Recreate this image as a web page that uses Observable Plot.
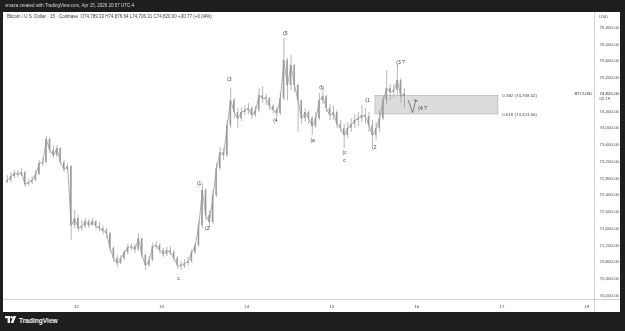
<!DOCTYPE html>
<html><head><meta charset="utf-8">
<script src="https://cdn.jsdelivr.net/npm/d3@7"></script>
<script src="https://cdn.jsdelivr.net/npm/@observablehq/plot@0.6"></script>
<style>
html,body{margin:0;padding:0;background:#1e1e1e;width:625px;height:331px;overflow:hidden;font-family:"Liberation Sans",Arial,sans-serif;}
#top{position:absolute;left:5px;top:0;height:11px;line-height:11px;font-size:4.5px;color:#dadada;white-space:nowrap;will-change:transform;}
#panel{position:absolute;left:3px;top:12px;width:617px;height:300px;background:#fff;overflow:hidden;}
#legend{position:absolute;left:4px;top:2px;font-size:4.5px;color:#3a3a3a;white-space:nowrap;will-change:transform;}
#usd{position:absolute;left:596px;top:2px;font-size:4.4px;color:#555;will-change:transform;}
.vsep{position:absolute;left:591px;top:0;width:1px;height:300px;background:#d2d2d2;}
.hsep{position:absolute;left:0;top:287px;width:617px;height:1px;background:#d2d2d2;}
#logo{position:absolute;left:5px;top:315px;height:10px;display:flex;align-items:center;color:#f2f2f2;font-size:6.6px;font-weight:600;}
#chart{position:absolute;left:0;top:0;will-change:transform;}
</style></head>
<body>
<div id="top">vmaza created with TradingView.com, Apr 15, 2026 20:57 UTC-4</div>
<div id="panel">
  <div id="chart"></div>
  <div class="vsep"></div><div class="hsep"></div>
  <div id="legend">Bitcoin / U.S. Dollar · 15 · Coinbase&nbsp; O74,789.33 H74,876.64 L74,706.31 C74,820.00 +30.77 (+0.04%)</div>
  <div id="usd">USD</div>
</div>
<div id="logo"><svg width="12" height="8" viewBox="0 0 12 8" style="margin-right:2px"><path d="M0 0H5V7H2.6V2.2H0Z" fill="#f2f2f2"/><circle cx="6.6" cy="1.3" r="1.2" fill="#f2f2f2"/><path d="M8.3 0H11.2L8.4 7H5.6Z" fill="#f2f2f2"/></svg>TradingView</div>
<script>
// hourly candles, hours counted from Apr 11 00:00
const firstHour = 4;
const firstOpen = 72700;
const closes = [72745,72840,72915,72890,72935,72650,72700,72745,72890,73150,
73175,73725,73465,73345,73510,73175,73010,73080,71670,71840,
71600,71650,71765,71670,71765,71650,71600,71550,71480,71125,
70885,70765,70885,71025,71145,71170,71100,71360,70955,70715,
70835,71170,71195,71075,70980,71075,71025,70885,70715,70695,
70765,70810,71025,71195,71670,72510,71910,71745,72390,73035,
73415,73345,74060,74655,74370,74225,74370,74420,74465,74300,
74420,74775,74705,74705,74515,74420,74345,74705,75610,75015,
75495,75015,74655,74225,74370,74225,74035,74225,74655,74750,
74465,74300,74370,74085,73990,73820,73990,74085,74180,74225,
74300,74275,74060,73820,73990,74225,74655,74945,74850,74895,
75135,74750,74820];
const highs = [72865,72935,72985,72985,73035,72960,72770,72840,72985,73225,
73270,73795,73775,73580,73580,73535,73225,73150,73105,72030,
71910,71790,71840,71815,71840,71790,71745,71650,71600,71505,
71170,70955,70955,71075,71220,71240,71220,71480,71360,71005,
70930,71240,71290,71240,71125,71145,71170,71075,70930,70810,
70860,70910,71100,71240,71790,72675,72555,72030,72510,73150,
73535,73510,74180,74945,74705,74465,74490,74535,74585,74515,
74515,74945,74990,74800,74730,74560,74490,74850,76135,75660,
75730,75515,75040,74655,74465,74420,74275,74370,74825,74945,
74775,74560,74515,74420,74180,74085,74130,74225,74320,74370,
74535,74465,74370,74180,74130,74420,74750,75375,75040,75040,
75515,75180,74945];
const lows = [72675,72700,72795,72820,72840,72580,72605,72650,72720,72865,
73080,73150,73390,73270,73295,73130,72935,72960,71315,71600,
71505,71530,71600,71600,71650,71575,71530,71455,71360,71025,
70790,70670,70740,70835,70980,71075,71005,71050,70885,70595,
70670,70810,71100,71005,70910,70930,70955,70810,70620,70595,
70645,70695,70765,70980,71145,71600,71790,71600,71695,72340,
72985,73225,73295,73990,74225,73990,74155,74300,74320,74205,
74250,74370,74585,74535,74420,74320,74250,74300,74655,74655,
74895,74850,73895,74085,74130,74085,73820,73990,74180,74560,
74370,74180,74180,73990,73895,73510,73750,73895,73990,74035,
74130,74085,73895,73580,73700,73895,74180,74560,74655,74705,
74775,74585,74465];

const yTicks = [76400,76000,75600,75200,74400,74000,73600,73200,72800,72400,72000,71600,71200,70800,70400,70000];
const dayTicks = [24,48,72,96,120,144,168];
const dayLabels = ["12","13","14","15","16","17","18"];

const waveLabels = ["c","(1","(2","(3","(4","(5","(a","(b","(c","c","(1","(2","(3 ?","(4 ?"];
const waveHours  = [52.8,58.6,60.9,67.1,80.1,82.9,90.6,93.1,99.6,99.6,106.1,108.0,115.4,121.6];
const wavePrices = [70400,72680,71600,75160,74180,76260,73700,74970,73420,73230,74660,73530,75560,74480];

const fibPrices = [74768.02, 74323.56];
const fibNames = ["0.382","0.618"];
const fibStartHour = 108.3, fibEndHour = 143.0, fibLabelHour = 144.1;

const pathHours = [117.6,118.8,119.7];
const pathPrices = [74657,74370,74657];

const lastPrice = 74820.00;
const countdown = "02:19";
const symbol = "BTCUSD";

const candles = closes.map((c,i)=>({
  h: firstHour + i,
  open: i === 0 ? firstOpen : closes[i-1],
  close: c, high: highs[i], low: lows[i]
}));
const waves = waveLabels.map((t,i)=>({t, h: waveHours[i], p: wavePrices[i]}));
const fibs = fibPrices.map((p,i)=>({p, t: `${fibNames[i]} (${d3.format(",.2f")(p)})`}));
const path = pathHours.map((h,i)=>({h, p: pathPrices[i]}));

const candleColor = "#9a9a9a";
const plot = Plot.plot({
  width: 617, height: 300,
  marginTop: 0, marginBottom: 13, marginLeft: 0, marginRight: 26,
  style: {fontFamily: "Liberation Sans, Arial, sans-serif", fontSize: "4.4px", color: "#4a4a4a", background: "transparent", overflow: "visible"},
  x: {domain: [3.41, 170.1], label: null},
  y: {domain: [69905, 76758], label: null},
  marks: [
    Plot.rect([{}], {x1: fibStartHour, x2: fibEndHour, y1: fibPrices[1], y2: fibPrices[0], fill: "#dcdcdc", stroke: "#b0b0b0", strokeWidth: 0.6}),
    Plot.ruleX(candles, {x: d=>d.h+0.5, y1: "low", y2: "high", stroke: candleColor, strokeWidth: 0.7}),
    Plot.line(candles, {x: d=>d.h+0.5, y: "close", stroke: candleColor, strokeWidth: 0.8}),
    Plot.rect(candles, {x1: d=>d.h+0.3, x2: d=>d.h+0.7, y1: "open", y2: d=> Math.abs(d.close-d.open)<25 ? d.open+25 : d.close, fill: candleColor}),
    Plot.line(path, {x: "h", y: "p", stroke: "#555", strokeWidth: 0.7, markerEnd: "arrow"}),
    Plot.text(waves, {x: "h", y: "p", text: "t", fontSize: 5, fill: "#3a3a3a"}),
    Plot.text(fibs, {x: fibLabelHour, y: "p", text: "t", textAnchor: "start", fontSize: 4.4, fill: "#4a4a4a"}),
    Plot.axisY(yTicks, {anchor: "right", label: null, tickSize: 0, tickPadding: 5, tickFormat: d3.format(",.2f"), fontSize: 4.4, fill: "#4a4a4a"}),
    Plot.axisX(dayTicks, {anchor: "bottom", label: null, tickSize: 0, tickPadding: 5, tickFormat: d => dayLabels[dayTicks.indexOf(d)], fontSize: 4.4, fill: "#4a4a4a"}),
    Plot.text([lastPrice], {y: d=>d, frameAnchor: "right", dx: 5, textAnchor: "start", text: d=>d3.format(",.2f")(d), fontSize: 4.4, fill: "#222"}),
    Plot.text([lastPrice], {y: d=>d, frameAnchor: "right", dx: 5, dy: 5, textAnchor: "start", text: ()=>countdown, fontSize: 4.2, fill: "#444"}),
    Plot.text([lastPrice], {y: d=>d, frameAnchor: "right", dx: -2, textAnchor: "end", text: ()=>symbol, fontSize: 4.4, fill: "#333"})
  ]
});
document.getElementById("chart").append(plot);
</script>
</body></html>
